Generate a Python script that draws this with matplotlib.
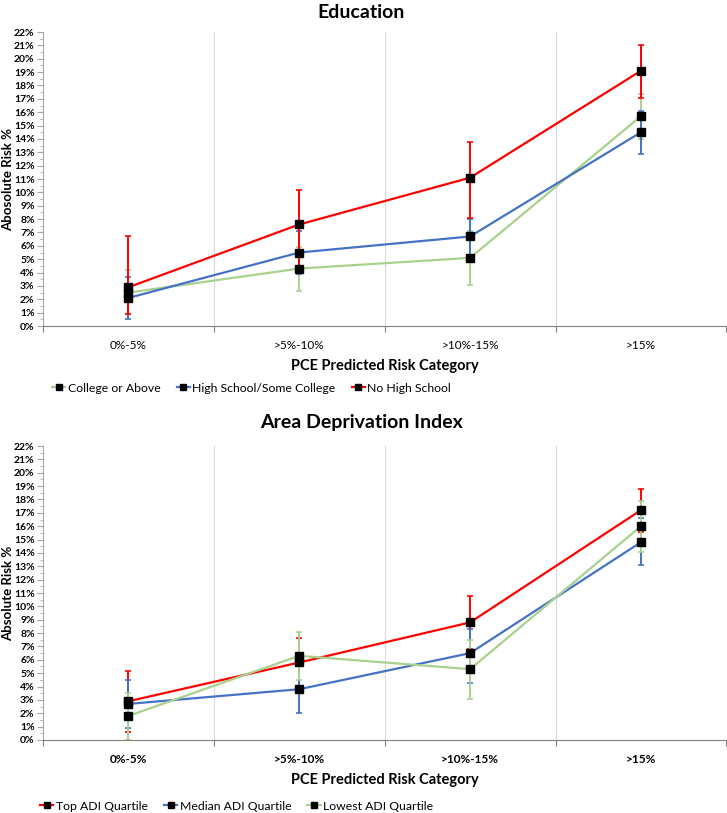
import numpy as np
import matplotlib
matplotlib.use('Agg')
import matplotlib.pyplot as plt
from matplotlib.lines import Line2D
from matplotlib.ticker import MultipleLocator, FixedLocator, NullFormatter

plt.rcParams['font.family'] = ['Lato', 'DejaVu Sans']

categories = ['0%-5%', '>5%-10%', '>10%-15%', '>15%']

# Education panel
edu_names = ['College or Above', 'High School/Some College', 'No High School']
edu_colors = ['#A9D18E', '#4472C4', '#FF0000']
edu_vals = [
    [2.5, 4.3, 5.1, 15.7],
    [2.1, 5.5, 6.7, 14.5],
    [2.9, 7.6, 11.1, 19.1],
]
edu_lo = [
    [0.9, 2.6, 3.1, 14.0],
    [0.5, 3.9, 4.8, 12.9],
    [0.9, 4.5, 8.1, 17.1],
]
edu_hi = [
    [4.2, 5.9, 7.1, 17.4],
    [3.7, 7.1, 8.0, 16.1],
    [6.7, 10.2, 13.8, 21.0],
]

# Area Deprivation Index panel
adi_names = ['Top ADI Quartile', 'Median ADI Quartile', 'Lowest ADI Quartile']
adi_colors = ['#FF0000', '#4472C4', '#A9D18E']
adi_vals = [
    [2.9, 5.8, 8.8, 17.2],
    [2.7, 3.8, 6.5, 14.8],
    [1.8, 6.3, 5.3, 16.0],
]
adi_lo = [
    [0.6, 4.0, 6.8, 15.6],
    [0.9, 2.0, 4.3, 13.1],
    [0.0, 4.5, 3.1, 14.1],
]
adi_hi = [
    [5.2, 7.6, 10.8, 18.8],
    [4.5, 5.6, 8.3, 16.6],
    [3.5, 8.1, 7.5, 17.9],
]


def draw_panel(ax, names, colors, vals, lo, hi, ylabel, xbold, leg_x, leg_y):
    x = np.arange(len(categories))
    handles = []
    for name, c, v, l, h in zip(names, colors, vals, lo, hi):
        v = np.array(v)
        err = [v - np.array(l), np.array(h) - v]
        ax.errorbar(x, v, yerr=err, color=c, lw=1.6, elinewidth=1.4,
                    capsize=2, capthick=1.2, marker='s', markersize=6,
                    markerfacecolor='black', markeredgecolor='black')
        handles.append(Line2D([], [], color=c, lw=1.6, marker='s',
                              markersize=4.5, markerfacecolor='black',
                              markeredgecolor='black', label=name))
    ax.set_xlim(-0.5, 3.5)
    ax.set_ylim(0, 22)
    ax.yaxis.set_major_locator(MultipleLocator(1))
    ax.yaxis.set_minor_locator(MultipleLocator(0.5))
    ax.set_yticklabels([f'{int(t)}%' for t in ax.get_yticks()])
    for lab in ax.get_yticklabels():
        lab.set_fontweight('bold')
        lab.set_fontsize(7.5)
    ax.tick_params(axis='y', which='major', length=4, color='#A6A6A6', pad=2)
    ax.tick_params(axis='y', which='minor', length=2.5, color='#A6A6A6')

    ax.xaxis.set_major_locator(FixedLocator([-0.5, 0.5, 1.5, 2.5, 3.5]))
    ax.xaxis.set_major_formatter(NullFormatter())
    ax.set_xticks(x, minor=True)
    ax.set_xticklabels(categories, minor=True,
                       fontweight='bold' if xbold else 'normal', fontsize=8.5)
    ax.tick_params(axis='x', which='major', length=4, color='#808080')
    ax.tick_params(axis='x', which='minor', length=0, pad=10)

    for g in [0.5, 1.5, 2.5, 3.5]:
        ax.axvline(g, color='#D9D9D9', lw=0.8, zorder=0)

    for s in ['top', 'right']:
        ax.spines[s].set_visible(False)
    ax.spines['left'].set_color('#A6A6A6')
    ax.spines['bottom'].set_color('#808080')

    ax.set_ylabel(ylabel, fontsize=9.5, fontweight='bold')
    ax.yaxis.set_label_coords(-0.043, 0.5)
    ax.set_xlabel('PCE Predicted Risk Category', fontsize=10.5,
                  fontweight='bold', labelpad=6)

    ax.legend(handles=handles, loc='center left',
              bbox_to_anchor=(leg_x, leg_y), bbox_transform=fig.transFigure,
              ncol=3, frameon=False, fontsize=8.8, handlelength=1.1,
              handletextpad=0.2, columnspacing=1.3, borderaxespad=0,
              borderpad=0)


fig = plt.figure(figsize=(7.27, 8.13), dpi=100)

ax1 = fig.add_axes([0.0591, 0.599, 0.940, 0.3616])
draw_panel(ax1, edu_names, edu_colors, edu_vals, edu_lo, edu_hi,
           'Abosolute Risk %', False, 52 / 727, 1 - 388 / 813)
fig.text(0.497, 1 - 12 / 813, 'Education', ha='center', va='center',
         fontsize=14, fontweight='bold')

ax2 = fig.add_axes([0.0591, 0.0898, 0.940, 0.3616])
draw_panel(ax2, adi_names, adi_colors, adi_vals, adi_lo, adi_hi,
           'Absolute Risk %', True, 40 / 727, 1 - 806 / 813)
fig.text(0.497, 1 - 422 / 813, 'Area Deprivation Index', ha='center',
         va='center', fontsize=14, fontweight='bold')

fig.savefig('out.png', dpi=100)
